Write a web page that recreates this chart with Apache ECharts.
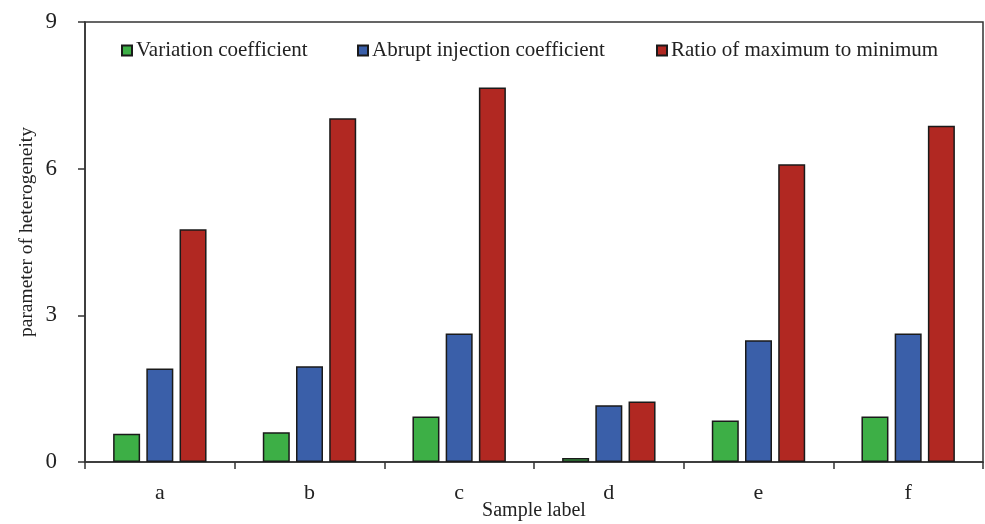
<!DOCTYPE html>
<html>
<head>
<meta charset="utf-8">
<script src="https://cdn.jsdelivr.net/npm/echarts@6/dist/echarts.min.js"></script>
<style>
html,body{margin:0;padding:0;background:#fff;}
#chart{width:985px;height:524px;}
</style>
</head>
<body>
<div id="chart"></div>
<script>
const categories = ['a', 'b', 'c', 'd', 'e', 'f'];
const variationCoefficient = [0.58, 0.61, 0.93, 0.08, 0.85, 0.93];
const abruptInjectionCoefficient = [1.91, 1.96, 2.63, 1.16, 2.49, 2.63];
const ratioMaxToMin = [4.76, 7.03, 7.66, 1.24, 6.09, 6.88];
const seriesNames = ['Variation coefficient', 'Abrupt injection coefficient', 'Ratio of maximum to minimum'];
const seriesColors = ['#3DAF46', '#3A5FA9', '#B12822'];

const font = 'Liberation Serif, Times New Roman, serif';
const chart = echarts.init(document.getElementById('chart'));
const seriesData = [variationCoefficient, abruptInjectionCoefficient, ratioMaxToMin];
const legendLefts = [116, 352, 651];

chart.setOption({
  backgroundColor: '#fff',
  animation: false,
  legend: seriesNames.map((n, i) => ({
    data: [n],
    left: legendLefts[i],
    top: 35,
    itemWidth: 10,
    itemHeight: 10,
    itemGap: 4,
    icon: 'rect',
    textStyle: {fontFamily: font, fontSize: 21, color: '#222', padding: [0, 0, 0, -1]}
  })),
  grid: {
    left: 85, right: 2, top: 22, bottom: 62,
    outerBoundsMode: 'none',
    containLabel: false,
    show: true, borderColor: '#333', borderWidth: 1.5, backgroundColor: 'transparent'
  },
  xAxis: {
    type: 'category',
    data: categories,
    name: 'Sample label',
    nameLocation: 'middle',
    nameGap: 39,
    nameMoveOverlap: false,
    nameTextStyle: {fontFamily: font, fontSize: 20, color: '#222'},
    axisLine: {lineStyle: {color: '#333', width: 1.5}},
    axisTick: {show: true, length: 7, inside: false, lineStyle: {color: '#333', width: 1.5}},
    axisLabel: {fontFamily: font, fontSize: 22, color: '#222', margin: 20},
    splitLine: {show: false}
  },
  yAxis: {
    type: 'value',
    min: 0, max: 9, interval: 3,
    name: 'parameter of heterogeneity',
    nameLocation: 'middle',
    nameGap: 48,
    nameMoveOverlap: false,
    nameTextStyle: {fontFamily: font, fontSize: 19.5, color: '#222', padding: [0, 0, 0, 20]},
    axisLine: {show: true, lineStyle: {color: '#333', width: 1.5}},
    axisTick: {show: true, length: 7, inside: false, lineStyle: {color: '#333', width: 1.5}},
    axisLabel: {fontFamily: font, fontSize: 23, color: '#222', margin: 28},
    splitLine: {show: false}
  },
  series: seriesNames.map((n, i) => ({
    name: n,
    type: 'bar',
    data: seriesData[i],
    barWidth: 27,
    barGap: '23%',
    itemStyle: {color: seriesColors[i], borderColor: '#1a1a1a', borderWidth: 1.5}
  }))
});
</script>
</body>
</html>
